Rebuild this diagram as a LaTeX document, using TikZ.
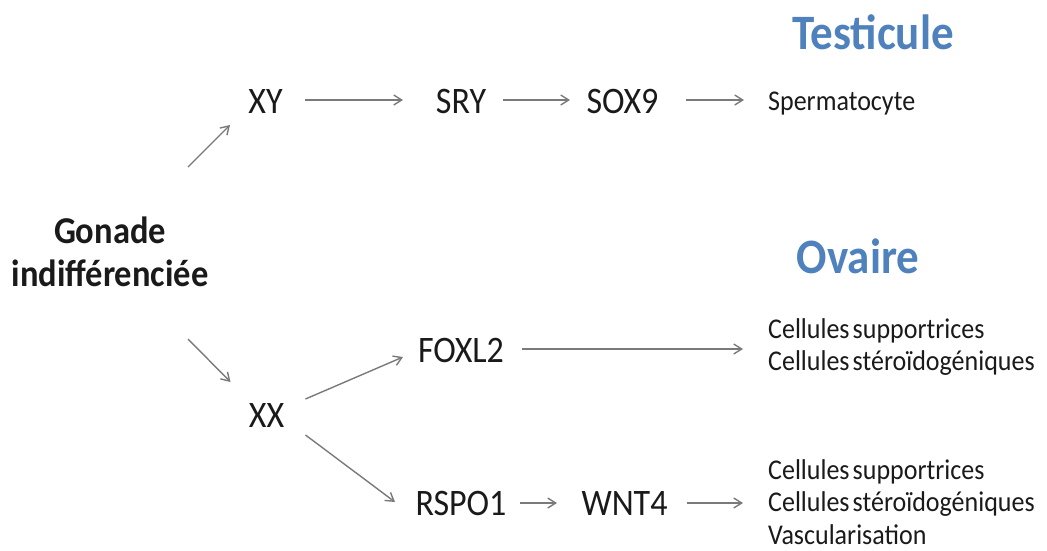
\documentclass[tikz,border=0pt]{standalone}
\usepackage{fontspec}
\setmainfont{Carlito}
\usetikzlibrary{arrows.meta}
\definecolor{ttlblue}{HTML}{4F81BD}
\definecolor{arrgray}{HTML}{7A7A7A}
\definecolor{txt}{HTML}{1A1A1A}
\newcommand{\sk}{\kern0.12em}
\begin{document}
\begin{tikzpicture}[x=1pt,y=-1pt,
  lbl/.style={inner sep=0pt, yscale=1.1, text=txt, font=\fontsize{34}{40}\selectfont},
  gonstyle/.style={inner sep=0pt, yscale=1.1, text=txt, align=center, font=\fontsize{34.5}{39}\selectfont\bfseries},
  ttl/.style={inner sep=0pt, yscale=1.1, text=ttlblue, font=\fontsize{45}{54}\selectfont\bfseries},
  res/.style={inner sep=0pt, yscale=1.1, anchor=west, align=left, text=txt, font=\fontsize{26}{29.5}\selectfont},
  arr/.style={draw=arrgray, line width=1.4pt, -{Straight Barb[length=8pt,width=10pt]}}]
\useasboundingbox (0,0) rectangle (1047,550);
% titles
\node[ttl] (test) at (873,32) {Testicule};
\node[ttl] (ova) at (858,256) {Ovaire};
% source
\node[gonstyle] (gon) at (110,252) {Gonade\\indifférenciée};
% male path
\node[lbl] (xy) at (265.5,101.5) {XY};
\node[lbl] (sry) at (461,101.5) {SRY};
\node[lbl] (sox) at (622.5,101.5) {SOX9};
\node[res] (sperm) at (768,104) {Spermatocyte};
% female path
\node[lbl] (xx) at (266.5,415) {XX};
\node[lbl] (foxl) at (461,350) {FOXL2};
\node[lbl] (rspo) at (461,503) {RSPO1};
\node[lbl] (wnt) at (624.5,503) {WNT4};
\node[res] (cells1) at (768,347) {Cellules\sk supportrices\\Cellules\sk stéroïdogéniques};
\node[res] (cells2) at (768,502) {Cellules\sk supportrices\\Cellules\sk stéroïdogéniques\\Vascularisation};
% connectors
\draw[arr] ([shift={(78,-85)}]gon.center) -- ([shift={(-35.5,23.5)}]xy.center);
\draw[arr] ([shift={(78,87)}]gon.center) -- ([shift={(-36,-33)}]xx.center);
\draw[arr] ([shift={(39.5,-1.5)}]xy.center) -- ([shift={(-58,-1.5)}]sry.center);
\draw[arr] ([shift={(42,-1.5)}]sry.center) -- ([shift={(-52.5,-1.5)}]sox.center);
\draw[arr] ([shift={(63.5,-1.5)}]sox.center) -- ([shift={(-24,-4)}]sperm.west);
\draw[arr] ([shift={(39,-16)}]xx.center) -- ([shift={(-58,7)}]foxl.center);
\draw[arr] ([shift={(39,20)}]xx.center) -- ([shift={(-66,-1)}]rspo.center);
\draw[arr] ([shift={(61,-1)}]foxl.center) -- ([shift={(-25,2)}]cells1.west);
\draw[arr] ([shift={(59,0)}]rspo.center) -- ([shift={(-67.5,0)}]wnt.center);
\draw[arr] ([shift={(62.5,0)}]wnt.center) -- ([shift={(-25,1)}]cells2.west);
\end{tikzpicture}
\end{document}
